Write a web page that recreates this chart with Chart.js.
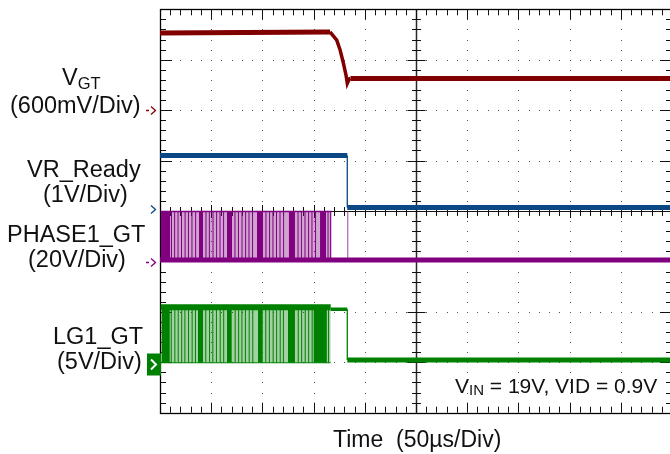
<!DOCTYPE html>
<html><head><meta charset="utf-8">
<script src="https://cdn.jsdelivr.net/npm/chart.js@4.4.1/dist/chart.umd.min.js"></script>
<style>
html,body{margin:0;padding:0;background:#fff;overflow:hidden;}
#wrap{position:relative;width:680px;height:454px;}
</style></head><body>
<div id="wrap"><canvas id="c"></canvas></div>
<script>
// ---- DATA (time in µs, 50 µs/div; amplitude in screen divisions, 0 = bottom, 8 = top) ----
const timeRange = [0, 500];
const divRange = [0, 8];
const xMajorTicks = [0, 50, 100, 150, 200, 250, 300, 350, 400, 450, 500];
const yMajorTicks = [0, 1, 2, 3, 4, 5, 6, 7, 8];
const xMinorStep = 10;
const yMinorStep = 0.2;

const vgtTime  = [0, 166, 172.6, 175.8, 179, 181.6, 182.9, 184.9, 186, 500];
const vgtLevel = [7.53, 7.55, 7.39, 7.20, 6.94, 6.70, 6.53, 6.62, 6.63, 6.63];

const vrTime  = [0, 182.9, 182.9, 500];
const vrLevel = [5.10, 5.10, 4.07, 4.07];

const phaseHigh = 3.99, phaseLow = 3.03;
const phaseBurst = [0.7, 167.7];
const phaseBlocks = [[0.7, 9.8], [38.1, 42.0], [65.4, 70.3], [94.7, 100.6], [125.9, 131.8], [156.3, 162.1]];
const phasePulses = [11.2, 14.3, 17.6, 21.0, 24.5, 27.8, 31.2, 34.8, 44.9, 48.2, 51.8, 55.3, 58.6, 62.1,
  73.2, 76.6, 80.1, 83.6, 86.9, 90.4, 103.5, 107.0, 110.3, 113.8, 117.2, 120.7,
  134.8, 138.1, 141.6, 145.1, 148.4, 151.9, 164.1, 166.6];
const phaseSpike = 183.4;

const lgHigh = 2.09, lgLow = 0.99, lgPlateau = 2.05, lgOff = 1.045;
const lgBurst = [0.7, 166.7];
const lgBlocks = [[1.7, 9.5], [37.1, 42.0], [65.4, 70.0], [95.7, 100.3], [125.0, 131.8], [150.1, 163.0]];
const lgPulses = [11.0, 14.5, 17.8, 21.2, 24.3, 27.9, 31.4, 34.6, 44.7, 48.4, 51.6, 55.1, 58.8, 62.2,
  73.4, 76.8, 80.0, 83.4, 87.1, 90.6, 103.3, 106.8, 110.5, 113.9, 117.4, 120.5,
  135.0, 138.3, 141.8, 145.2, 148.6, 164.6];
const lgDrop = 182.9;

const channelRefLevels = [6.0, 4.04, 2.99, 0.97];
const channelNames  = ['V', 'VR_Ready', 'PHASE1_GT', 'LG1_GT'];
const channelSubs   = ['GT', '', '', ''];
const channelScales = ['(600mV/Div)', '(1V/Div)', '(20V/Div)', '(5V/Div)'];
const noteText = ['V', 'IN', ' = 19V, VID = 0.9V'];
const xTitle = 'Time  (50µs/Div)';

// ---- colours ----
const C_VGT = '#800000', C_VR = '#0a4785', C_PH = '#800080', C_LG = '#008000';

// ---- helpers to build point lists from the arrays ----
const zip = (xs, ys) => xs.map((t, i) => ({x: t, y: ys[i]}));
const rects = (list, lo, hi) => list.flatMap(([a, b]) => [{x:a,y:lo},{x:a,y:hi},{x:b,y:hi},{x:b,y:lo}]);
const sticks = (ts, lo, hi) => ts.flatMap(t => [{x:t,y:lo},{x:t,y:hi},{x:t,y:null}]);
const base = {pointRadius: 0, pointHoverRadius: 0, tension: 0, fill: false, spanGaps: false};

const datasets = [
  // VGT
  {...base, order: 1, data: zip(vgtTime, vgtLevel), borderColor: C_VGT, borderWidth: 5,
   segment: {borderWidth: c => (c.p1.parsed.x - c.p0.parsed.x) < 20 ? 3.5 : 5}},
  // VR_Ready
  {...base, order: 2, data: zip(vrTime, vrLevel), borderColor: C_VR, borderWidth: 5,
   segment: {borderWidth: c => c.p0.parsed.x === c.p1.parsed.x ? 1.3 : 5}},
  // PHASE1_GT
  {...base, order: 3, data: [{x: 0, y: phaseLow}, {x: timeRange[1], y: phaseLow}], borderColor: C_PH, borderWidth: 5},
  {...base, order: 4, data: [{x: phaseBurst[0], y: phaseHigh}, {x: phaseBurst[1], y: phaseHigh}], borderColor: C_PH, borderWidth: 1.5},
  {...base, order: 5, data: sticks(phasePulses, phaseLow, phaseHigh), borderColor: C_PH, borderWidth: 1},
  {...base, order: 5, data: sticks([phaseSpike], phaseLow, phaseHigh), borderColor: '#a040a0', borderWidth: 1},
  {...base, order: 6, data: rects(phaseBlocks, phaseLow, phaseHigh), borderWidth: 0, borderColor: 'rgba(0,0,0,0)',
   fill: {value: phaseLow}, backgroundColor: C_PH},
  {...base, order: 7, data: rects([phaseBurst], phaseLow, phaseHigh), borderWidth: 0, borderColor: 'rgba(0,0,0,0)',
   fill: {value: phaseLow}, backgroundColor: 'rgba(128,0,128,0.36)'},
  // LG1_GT
  {...base, order: 3, data: [{x: lgBurst[0], y: lgHigh}, {x: lgBurst[1], y: lgHigh}], borderColor: C_LG, borderWidth: 6},
  {...base, order: 3, data: [{x: lgBurst[1], y: lgPlateau}, {x: lgDrop, y: lgPlateau}, {x: lgDrop, y: lgOff}, {x: timeRange[1], y: lgOff}],
   borderColor: C_LG, borderWidth: 5,
   segment: {borderWidth: c => c.p0.parsed.x === c.p1.parsed.x ? 1.3 : (c.p0.parsed.y === lgPlateau ? 3.5 : 5)}},
  {...base, order: 4, data: [{x: lgBurst[0], y: lgLow}, {x: lgBurst[1], y: lgLow}], borderColor: C_LG, borderWidth: 1},
  {...base, order: 5, data: sticks(lgPulses, lgLow, lgHigh), borderColor: C_LG, borderWidth: 1},
  {...base, order: 6, data: rects(lgBlocks, lgLow, lgHigh), borderWidth: 0, borderColor: 'rgba(0,0,0,0)',
   fill: {value: lgLow}, backgroundColor: C_LG},
  {...base, order: 7, data: rects([lgBurst], lgLow, lgHigh), borderWidth: 0, borderColor: 'rgba(0,0,0,0)',
   fill: {value: lgLow}, backgroundColor: 'rgba(0,128,0,0.36)'}
];

const FONT = '"Liberation Sans", Arial, Helvetica, sans-serif';

const scopePlugin = {
  id: 'scope',
  beforeDatasetsDraw(chart) {
    const {ctx, chartArea: a, scales: {x, y}} = chart;
    ctx.save();
    const xs = [], ys = [];
    for (let t = timeRange[0]; t <= timeRange[1] + 1e-6; t += xMinorStep) xs.push(t);
    for (let v = divRange[0]; v <= divRange[1] + 1e-6; v += yMinorStep) ys.push(+v.toFixed(2));
    const P = v => Math.round(v);
    // dotted grid
    ctx.fillStyle = '#505050';
    xMajorTicks.slice(1, -1).forEach(t => {
      if (t === 250) return;
      const px = P(x.getPixelForValue(t));
      ys.forEach(v => ctx.fillRect(px, P(y.getPixelForValue(v)), 1, 1));
    });
    yMajorTicks.slice(1, -1).forEach(v => {
      if (v === 4) return;
      const py = P(y.getPixelForValue(v));
      xs.forEach(t => ctx.fillRect(P(x.getPixelForValue(t)), py, 1, 1));
    });
    // center axes
    const cx = P(x.getPixelForValue(250)) + 0.5, cy = P(y.getPixelForValue(4)) + 0.5;
    ctx.strokeStyle = '#2a2a2a'; ctx.lineWidth = 1.5;
    ctx.beginPath(); ctx.moveTo(cx, a.top); ctx.lineTo(cx, a.bottom); ctx.stroke();
    ctx.lineWidth = 1; ctx.strokeStyle = '#111';
    ctx.beginPath(); ctx.moveTo(a.left, cy); ctx.lineTo(a.right, cy); ctx.stroke();
    ctx.beginPath();
    ys.forEach(v => {
      const py = P(y.getPixelForValue(v)) + 0.5;
      const h = Math.abs(v - Math.round(v)) < 1e-6 ? 9 : 4.5;
      ctx.moveTo(cx - h, py); ctx.lineTo(cx + h, py);
      const L = Math.abs(v - Math.round(v)) < 1e-6 ? 12 : 6;
      ctx.moveTo(a.left, py); ctx.lineTo(a.left + L, py);
      ctx.moveTo(a.right, py); ctx.lineTo(a.right - L, py);
    });
    xs.forEach(t => {
      const px = P(x.getPixelForValue(t)) + 0.5;
      const major = t % 50 === 0;
      const h = major ? 6.5 : 4.5;
      ctx.moveTo(px, cy - h); ctx.lineTo(px, cy + h);
      const L = major ? 10 : 6;
      ctx.moveTo(px, a.top); ctx.lineTo(px, a.top + L);
      ctx.moveTo(px, a.bottom); ctx.lineTo(px, a.bottom - L);
    });
    ctx.stroke();
    // border
    ctx.lineWidth = 1.3; ctx.strokeStyle = '#000';
    ctx.strokeRect(P(a.left) + 0.5, P(a.top) + 0.5, P(a.right) - P(a.left), P(a.bottom) - P(a.top));
    ctx.restore();
  },
  afterDraw(chart) {
    const {ctx, scales: {x, y}} = chart;
    ctx.save();
    ctx.fillStyle = '#111';
    ctx.textBaseline = 'alphabetic';
    const big = '23.5px ' + FONT, small = '16.5px ' + FONT;
    // channel labels
    ctx.font = big; ctx.fillText(channelNames[0], 62, 85);
    const w = ctx.measureText(channelNames[0]).width;
    ctx.font = small; ctx.fillText(channelSubs[0], 62 + w, 89);
    ctx.font = big;
    ctx.fillText(channelScales[0], 10, 113);
    ctx.fillText(channelNames[1], 27, 177);
    ctx.fillText(channelScales[1], 43, 202);
    ctx.fillText(channelNames[2], 7, 242);
    ctx.fillText(channelScales[2], 28, 267);
    ctx.fillText(channelNames[3], 53, 344);
    ctx.fillText(channelScales[3], 57, 369);
    // x title
    ctx.font = '23px ' + FONT;
    ctx.fillText(xTitle, 333, 447);
    // note
    ctx.font = '21px ' + FONT;
    let nx = 455;
    ctx.fillText(noteText[0], nx, 393); nx += ctx.measureText(noteText[0]).width;
    ctx.font = '15px ' + FONT;
    ctx.fillText(noteText[1], nx, 395); nx += ctx.measureText(noteText[1]).width;
    ctx.font = '21px ' + FONT;
    ctx.fillText(noteText[2], nx, 393);
    // channel reference markers
    const cols = [C_VGT, C_VR, C_PH, C_LG];
    channelRefLevels.forEach((lv, i) => {
      const py = Math.round(y.getPixelForValue(lv)) + 0.5;
      ctx.strokeStyle = cols[i]; ctx.lineWidth = 1.3;
      if (i === 3) {
        ctx.fillStyle = C_LG;
        ctx.fillRect(147, py - 11, 14, 22);
        ctx.strokeStyle = '#fff'; ctx.lineWidth = 2;
        ctx.beginPath(); ctx.moveTo(151, py - 5); ctx.lineTo(156, py); ctx.lineTo(151, py + 5); ctx.stroke();
        return;
      }
      ctx.beginPath();
      if (i !== 1) { ctx.moveTo(146, py); ctx.lineTo(149, py); }
      ctx.moveTo(151, py - 4); ctx.lineTo(155.5, py); ctx.lineTo(151, py + 4);
      ctx.stroke();
    });
    ctx.restore();
  }
};

new Chart(document.getElementById('c'), {
  type: 'line',
  data: {datasets},
  options: {
    responsive: true, maintainAspectRatio: false, animation: false, devicePixelRatio: 1,
    layout: {padding: {left: 160, right: 8, top: 9.3, bottom: 41.3}},
    plugins: {legend: {display: false}, tooltip: {enabled: false}},
    events: [],
    scales: {
      x: {type: 'linear', display: false, min: timeRange[0], max: timeRange[1]},
      y: {type: 'linear', display: false, min: divRange[0], max: divRange[1]}
    }
  },
  plugins: [scopePlugin]
});
</script>
</body></html>
